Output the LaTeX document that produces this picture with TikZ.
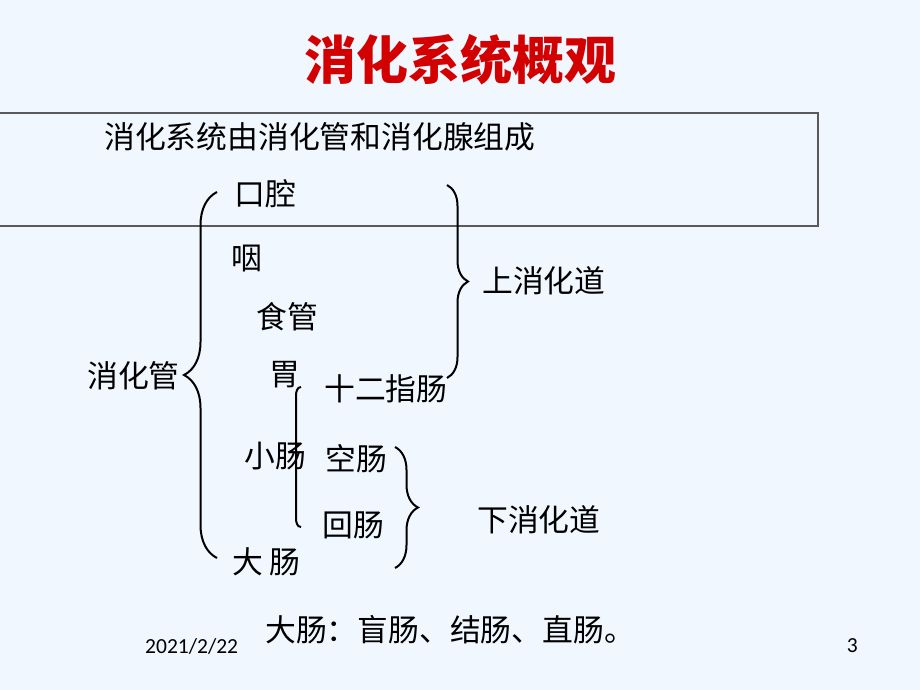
\documentclass[tikz,border=0pt]{standalone}
\usepackage{fontspec}
\setmainfont{Noto Sans CJK SC}
\newfontfamily\datefont{Carlito}
\usetikzlibrary{decorations.pathreplacing}
\definecolor{slidebg}{RGB}{240,247,254}
\definecolor{titlered}{RGB}{210,0,0}
\definecolor{boxgray}{RGB}{90,90,90}

\begin{document}
\begin{tikzpicture}[x=1pt,y=-1pt,
  txt/.style={anchor=west,inner sep=0pt,font=\fontsize{30.8}{34}\selectfont},
  curly/.style={decorate,decoration={brace,amplitude=#1},line width=2pt},
  bracketline/.style={line width=2pt}]
				% fond
				\fill [slidebg] (0,0) rectangle (920,690);
				\useasboundingbox (0,0) rectangle (920,690);
				\draw [boxgray,line width=1.2pt] (-5,113) -- (818,113) -- (818,226) -- (-5,226);
				% titre
				\node [titlered,inner sep=0pt,font=\fontsize{52}{58}\bfseries\selectfont] (titre) at (460,60) {消化系统概观};
				\node [txt] (intro) at (104,137) {消化系统由消化管和消化腺组成};
				% organes
				\node [txt] (kouqiang) at (234,194) {口腔};
				\node [txt] (yan) at (231,259) {咽};
				\node [txt] (shiguan) at (256,317) {食管};
				\node [txt] (wei) at (269,375) {胃};
				\node [txt] (shierzhi) at (324,389) {十二指肠};
				\node [txt] (xiaochang) at (244,456) {小肠};
				\node [txt] (kongchang) at (325,459) {空肠};
				\node [txt] (huichang) at (322,525) {回肠};
				\node [txt] (dachang) at (232,562) {大 肠};
				\node [txt] (xhg) at (87,376) {消化管};
				\node [txt] (shang) at (482,281) {上消化道};
				\node [txt] (xia) at (477,520) {下消化道};
				\node [txt] (bas) at (265,630) {大肠：盲肠、结肠、直肠。};
				% accolades
				\draw [curly=33] (217,558) -- (217,192);
				\draw [curly=21] (447,185) -- (447,378);
				\draw [curly=23] (395,447) -- (395,568);
				\draw [bracketline] (301,387) to[out=180,in=90] (296,396) -- (296,518) to[out=-90,in=180] (301,527);
				% pied de page
				\node [anchor=west,inner sep=0pt,font=\datefont\fontsize{21.5}{24}\selectfont] (date) at (145,646) {2021/2/22};
				\node [anchor=east,inner sep=0pt,font=\datefont\fontsize{21.5}{24}\selectfont] (page) at (858,646) {3};
\end{tikzpicture}
\end{document}
